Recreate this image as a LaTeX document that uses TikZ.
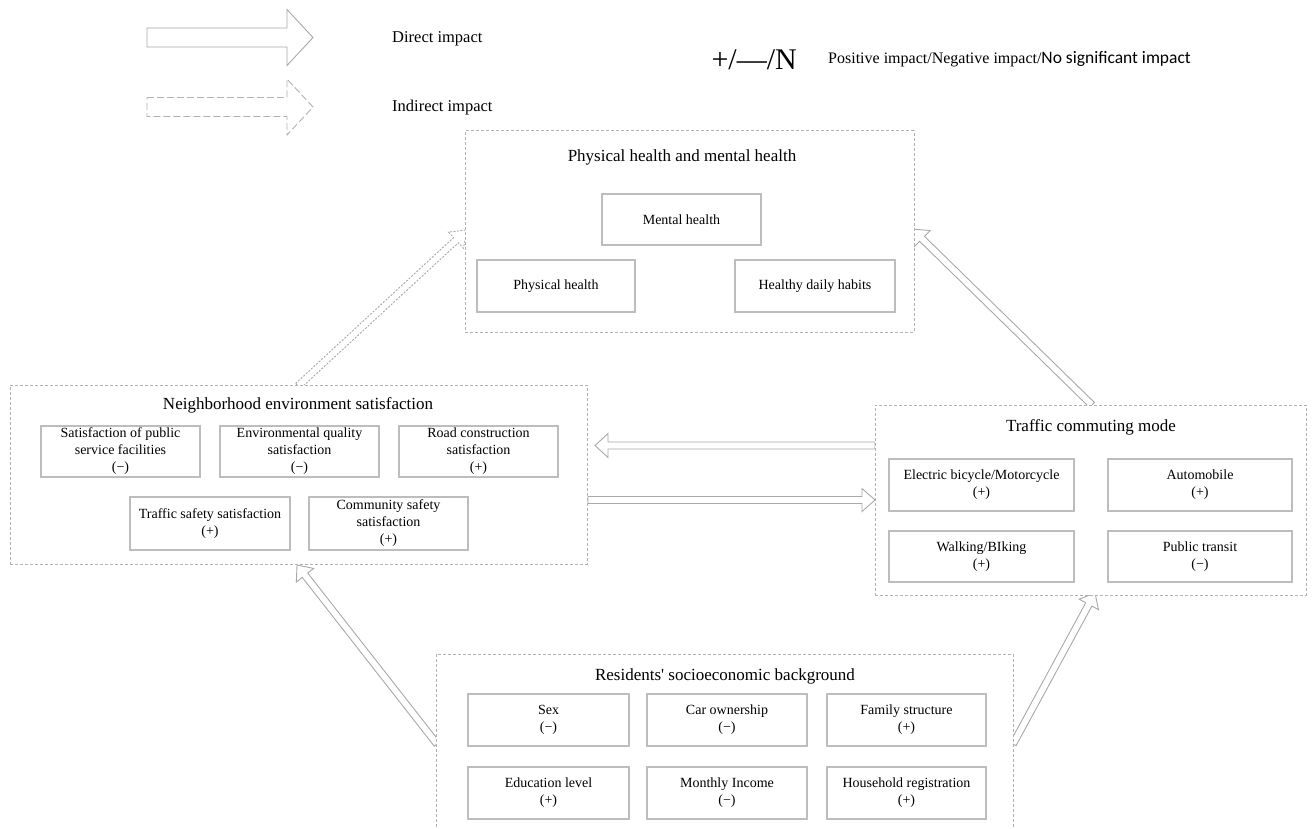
\documentclass[tikz,border=0pt]{standalone}
\usepackage{fontspec}
\setmainfont{Liberation Serif}
\newfontfamily\calfont{Carlito}
\usetikzlibrary{calc}
\definecolor{boxgray}{HTML}{B2B2B2}
\definecolor{subgray}{HTML}{BDBDBD}
\definecolor{arrgray}{HTML}{A9A9A9}
\newcommand\blockarrow[6]{%
  \coordinate (ba-h) at ($(#3)!#6!(#2)$);
  \draw[#1] ($(#2)!#4!90:(#3)$) -- ($(ba-h)!#4!90:(#3)$) -- ($(ba-h)!#5!90:(#3)$)
    -- (#3) -- ($(ba-h)!#5!-90:(#3)$) -- ($(ba-h)!#4!-90:(#3)$) -- ($(#2)!#4!-90:(#3)$) -- cycle;
}
\tikzset{
  outerbox/.style={draw=boxgray, dash pattern=on 3pt off 2pt, line width=1pt, fill=white, inner sep=0pt},
  subbox/.style={draw=subgray, line width=1.1pt, fill=white, inner sep=0pt, align=center,
    minimum width=160pt, minimum height=52pt, font=\fontsize{14}{17}\selectfont},
  titletext/.style={font=\fontsize{17}{20}\selectfont, inner sep=0pt},
  legendtext/.style={font=\fontsize{16.5}{20}\selectfont, anchor=base west, inner sep=0pt},
  blockarr/.style={draw=arrgray, line width=0.9pt, fill=white, line join=miter},
  dashedarr/.style={blockarr, dash pattern=on 2pt off 1.5pt},
  legenddashed/.style={blockarr, draw=boxgray, dash pattern=on 7pt off 3pt},
}
\begin{document}
\begin{tikzpicture}[x=1pt,y=-1pt]
\useasboundingbox (0,0) rectangle (1314,829);
\clip (0,0) rectangle (1314,829);
\fill[white] (0,0) rectangle (1314,829);

% ---- legend ----
\coordinate (ld1) at (147,37.5); \coordinate (ld2) at (313,37.5);
\coordinate (li1) at (147,107);  \coordinate (li2) at (313,107);
\blockarrow{blockarr}{ld1}{ld2}{9.5pt}{28pt}{26pt}
\blockarrow{legenddashed}{li1}{li2}{9.5pt}{28pt}{26pt}
\node[legendtext] (ldt) at (392,43) {Direct impact};
\node[legendtext] (lit) at (392,112) {Indirect impact};
\node[anchor=base east, inner sep=0pt, font=\fontsize{30}{32}\selectfont] (sym) at (797,70) {+/—/N};
\node[anchor=base west, inner sep=0pt] (symt) at (828,64)
  {\fontsize{16}{20}\selectfont Positive impact/Negative impact/\calfont\fontsize{17.5}{20}\selectfont No significant impact};

% ---- connector end points ----
\coordinate (tn1) at (875,445.5); \coordinate (tn2) at (595,445.5);
\coordinate (nt1) at (588,500);   \coordinate (nt2) at (875,500);
\coordinate (nh1) at (298,386);   \coordinate (nh2) at (467,230);
\coordinate (sn1) at (437,744);   \coordinate (sn2) at (297,565);
\coordinate (st1) at (1013,744);  \coordinate (st2) at (1095,593);
\coordinate (th1) at (1092,405);  \coordinate (th2) at (912,229);

\blockarrow{blockarr}{tn1}{tn2}{3.5pt}{12pt}{13pt}
\blockarrow{blockarr}{nt1}{nt2}{3.5pt}{11.5pt}{13pt}
\blockarrow{dashedarr}{nh1}{nh2}{3.5pt}{11pt}{15pt}
\blockarrow{blockarr}{sn1}{sn2}{3.5pt}{11pt}{13pt}
\blockarrow{blockarr}{st1}{st2}{3.5pt}{11pt}{13pt}
\blockarrow{blockarr}{th1}{th2}{3.5pt}{11.5pt}{14pt}

% ---- outer boxes ----
\node[outerbox, minimum width=449pt, minimum height=201pt] (H) at (689.5,231.5) {};
\node[outerbox, minimum width=577pt, minimum height=179pt] (N) at (298.5,474.5) {};
\node[outerbox, minimum width=431pt, minimum height=190pt] (T) at (1090.5,500) {};
\node[outerbox, minimum width=577pt, minimum height=196pt] (S) at (724.5,752) {};

% ---- titles ----
\node[titletext] (Ht) at (682,157) {Physical health and mental health};
\node[titletext] (Nt) at (298,405) {Neighborhood environment satisfaction};
\node[titletext] (Tt) at (1091,427) {Traffic commuting mode};
\node[titletext] (St) at (725,676) {Residents\textquotesingle\ socioeconomic background};

% ---- health ----
\node[subbox, minimum width=159pt, minimum height=51pt] (HM) at (681.5,219.5) {Mental health};
\node[subbox, minimum width=158pt] (HP) at (556,286) {Physical health};
\node[subbox] (HD) at (815,286) {Healthy daily habits};

% ---- neighborhood ----
\node[subbox, minimum width=159pt, minimum height=51pt] (N1) at (120.5,451.5) {Satisfaction of public\\service facilities\\(−)};
\node[subbox, minimum width=159pt, minimum height=51pt] (N2) at (299.5,451.5) {Environmental quality\\satisfaction\\(−)};
\node[subbox, minimum width=159pt, minimum height=51pt] (N3) at (478.5,451.5) {Road construction\\satisfaction\\(+)};
\node[subbox, minimum height=53pt] (N4) at (210,523.5) {Traffic safety satisfaction\\(+)};
\node[subbox, minimum width=159pt, minimum height=53pt] (N5) at (388.5,523.5) {Community safety\\satisfaction\\(+)};

% ---- traffic ----
\node[subbox, minimum width=185pt] (T1) at (981.5,485) {Electric bicycle/Motorcycle\\(+)};
\node[subbox, minimum width=184pt] (T2) at (1200,485) {Automobile\\(+)};
\node[subbox, minimum width=185pt, minimum height=51pt] (T3) at (981.5,556.5) {Walking/BIking\\(+)};
\node[subbox, minimum width=184pt, minimum height=51pt] (T4) at (1200,556.5) {Public transit\\(−)};

% ---- socioeconomic ----
\node[subbox, minimum width=161pt] (S1) at (548.5,720) {Sex\\(−)};
\node[subbox] (S2) at (727,720) {Car ownership\\(−)};
\node[subbox, minimum width=159pt] (S3) at (906.5,720) {Family structure\\(+)};
\node[subbox, minimum width=161pt] (S4) at (548.5,793) {Education level\\(+)};
\node[subbox] (S5) at (727,793) {Monthly Income\\(−)};
\node[subbox, minimum width=159pt] (S6) at (906.5,793) {Household registration\\(+)};
\end{tikzpicture}
\end{document}
